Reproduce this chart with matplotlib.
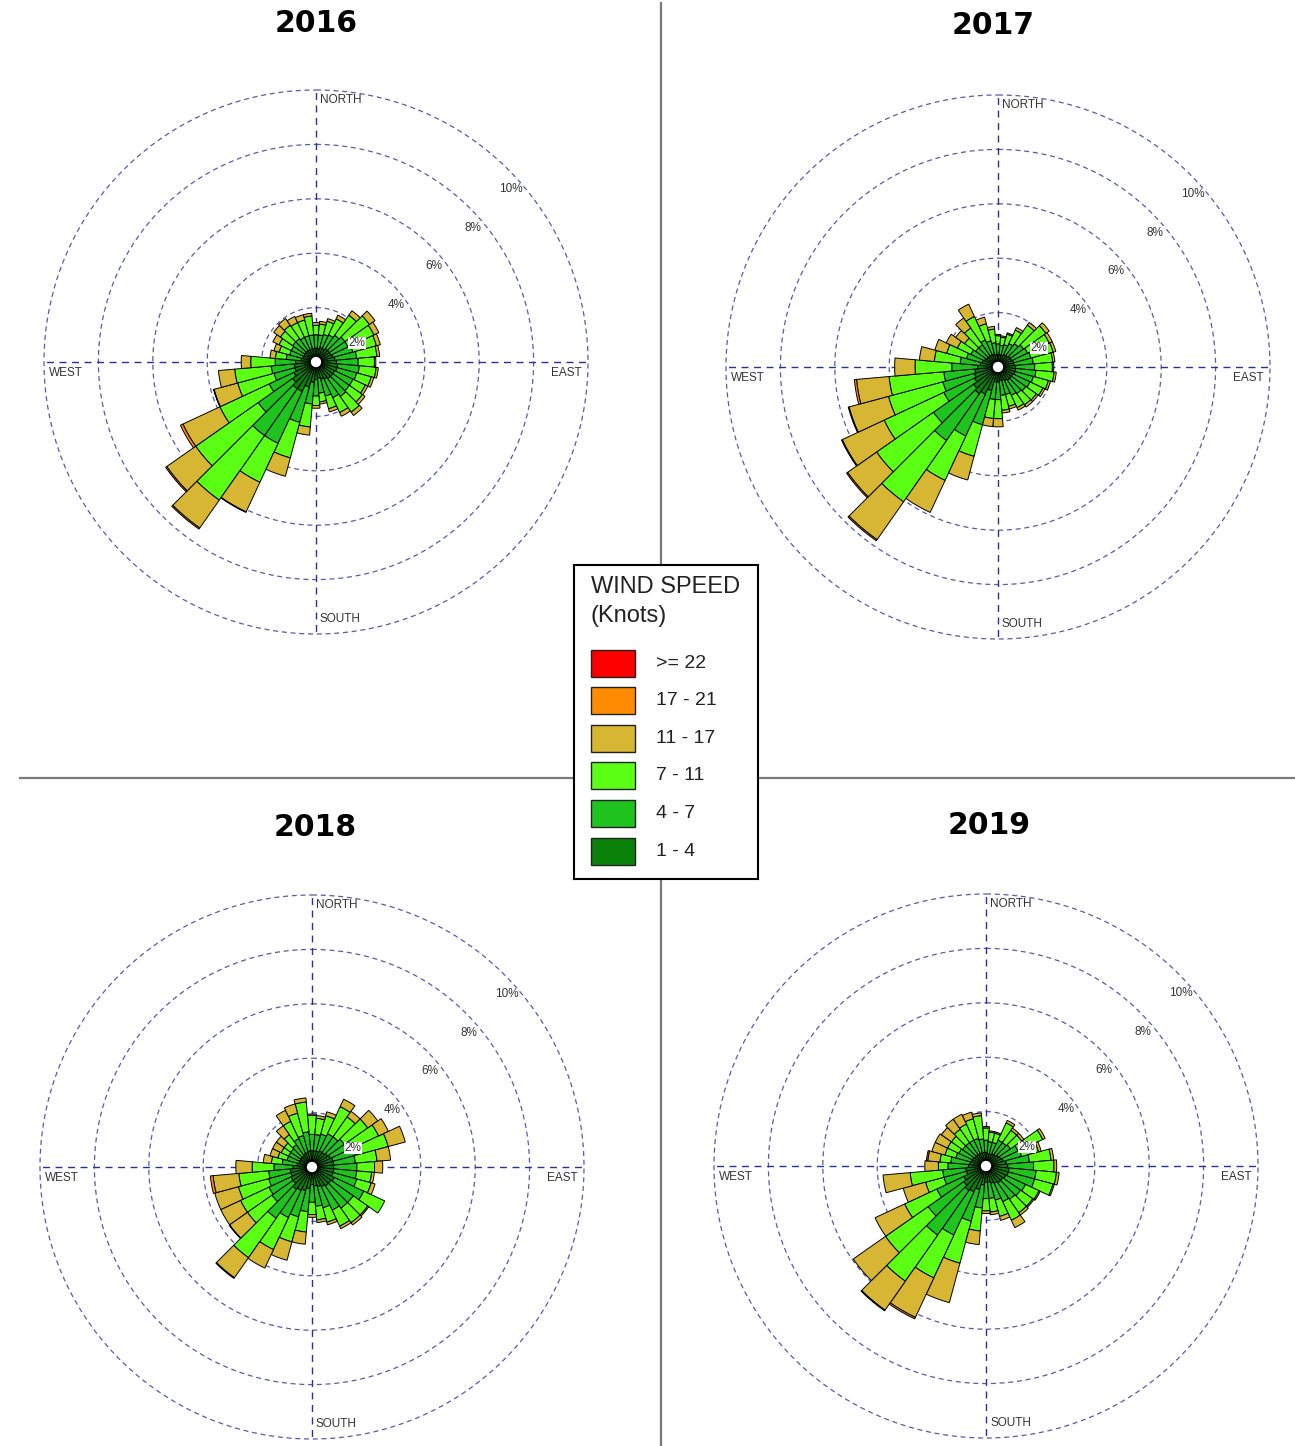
import numpy as np
import matplotlib
matplotlib.use('Agg')
import matplotlib.pyplot as plt
from matplotlib.patches import Circle, Rectangle
from matplotlib.lines import Line2D

plt.rcParams['font.family'] = ['Liberation Sans', 'DejaVu Sans']

# wind direction bins (degrees from north, clockwise)
directions = [0, 10, 20, 30, 40, 50, 60, 70, 80, 90, 100, 110,
              120, 130, 140, 150, 160, 170, 180, 190, 200, 210, 220, 230,
              240, 250, 260, 270, 280, 290, 300, 310, 320, 330, 340, 350]

speed_labels = ['1 - 4', '4 - 7', '7 - 11', '11 - 17', '17 - 21', '>= 22']
speed_colors = ['#0a820a', '#1ec31e', '#5aff14', '#d6b632', '#ff8c00', '#ff0000']
ring_values = [2, 4, 6, 8, 10]

# frequencies in % per speed class, one value per direction bin
s1_2016 = [0.5, 0.5, 0.55, 0.55, 0.6, 0.6, 0.6, 0.65, 0.7, 0.75, 0.8, 0.8,
           0.75, 0.75, 0.75, 0.7, 0.65, 0.6, 0.65, 0.75, 0.95, 1.2, 1.2, 1.05,
           0.9, 0.8, 0.8, 0.75, 0.55, 0.5, 0.5, 0.5, 0.5, 0.5, 0.5, 0.5]
s2_2016 = [0.5, 0.5, 0.5, 0.55, 0.6, 0.7, 0.7, 0.75, 0.8, 0.8, 0.8, 0.75,
           0.75, 0.75, 0.8, 0.75, 0.65, 0.55, 0.6, 0.8, 1.35, 2.1, 2.1, 1.55,
           1.0, 0.8, 0.85, 0.75, 0.55, 0.5, 0.5, 0.55, 0.55, 0.5, 0.5, 0.5]
s3_2016 = [0.35, 0.4, 0.5, 0.65, 0.9, 1.1, 1.05, 0.9, 0.75, 0.6, 0.62, 0.55,
           0.5, 0.58, 0.7, 0.6, 0.48, 0.32, 0.35, 0.85, 1.35, 1.58, 2.9, 2.8,
           2.0, 1.38, 1.35, 0.9, 0.4, 0.4, 0.5, 0.55, 0.6, 0.6, 0.6, 0.7]
s4_2016 = [0.1, 0.1, 0.1, 0.15, 0.2, 0.25, 0.2, 0.15, 0.1, 0.05, 0.08, 0.1,
           0.1, 0.12, 0.15, 0.15, 0.12, 0.08, 0.1, 0.3, 0.7, 1.2, 1.25, 1.3,
           1.5, 0.9, 0.6, 0.35, 0.2, 0.2, 0.25, 0.3, 0.3, 0.25, 0.2, 0.1]
s5_2016 = [0, 0, 0, 0, 0, 0, 0, 0, 0, 0, 0, 0,
           0, 0, 0, 0, 0, 0, 0, 0, 0, 0.02, 0.05, 0.05,
           0.1, 0.02, 0, 0, 0, 0, 0, 0, 0, 0, 0, 0]
s6_2016 = [0.0] * 36

s1_2017 = [0.45, 0.45, 0.45, 0.5, 0.5, 0.55, 0.55, 0.6, 0.6, 0.65, 0.65, 0.65,
           0.6, 0.6, 0.6, 0.55, 0.5, 0.5, 0.55, 0.55, 0.9, 1.1, 1.2, 1.1,
           0.95, 0.9, 0.85, 0.75, 0.65, 0.6, 0.55, 0.5, 0.5, 0.5, 0.5, 0.45]
s2_2017 = [0.4, 0.35, 0.4, 0.45, 0.55, 0.6, 0.65, 0.65, 0.7, 0.7, 0.75, 0.7,
           0.7, 0.65, 0.6, 0.6, 0.55, 0.55, 0.65, 0.65, 1.3, 1.7, 2.1, 1.8,
           1.25, 1.2, 1.15, 0.95, 0.75, 0.6, 0.55, 0.5, 0.5, 0.6, 0.5, 0.45]
s3_2017 = [0.3, 0.3, 0.4, 0.55, 0.83, 1.0, 0.88, 0.85, 0.72, 0.65, 0.67, 0.57,
           0.52, 0.47, 0.5, 0.5, 0.45, 0.55, 0.7, 0.7, 1.2, 1.8, 2.75, 2.55,
           2.42, 2.07, 2.02, 1.35, 0.95, 0.75, 0.55, 0.5, 0.75, 0.95, 0.65, 0.5]
s4_2017 = [0.05, 0.05, 0.05, 0.1, 0.12, 0.15, 0.12, 0.1, 0.08, 0.05, 0.08, 0.08,
           0.08, 0.08, 0.1, 0.1, 0.1, 0.1, 0.3, 0.3, 0.9, 1.3, 1.7, 1.3,
           1.7, 1.5, 1.2, 0.75, 0.55, 0.45, 0.45, 0.4, 0.45, 0.5, 0.25, 0.1]
s5_2017 = [0, 0, 0, 0, 0, 0, 0, 0, 0, 0, 0, 0,
           0, 0, 0, 0, 0, 0, 0, 0, 0, 0, 0.05, 0.05,
           0.03, 0.03, 0.08, 0, 0, 0, 0, 0, 0, 0, 0, 0]
s6_2017 = [0.0] * 36

s1_2018 = [0.6, 0.6, 0.6, 0.65, 0.65, 0.7, 0.75, 0.8, 0.8, 0.8, 0.8, 0.8,
           0.9, 0.85, 0.85, 0.8, 0.75, 0.7, 0.65, 0.8, 0.9, 0.95, 1.0, 0.85,
           0.85, 0.8, 0.8, 0.7, 0.55, 0.5, 0.5, 0.5, 0.5, 0.55, 0.55, 0.6]
s2_2018 = [0.6, 0.6, 0.65, 0.7, 0.7, 0.75, 0.8, 0.85, 0.8, 0.85, 0.85, 0.9,
           1.2, 1.0, 1.0, 0.95, 0.8, 0.75, 0.65, 0.85, 1.0, 1.1, 1.3, 0.95,
           0.9, 0.85, 0.8, 0.7, 0.55, 0.45, 0.45, 0.45, 0.5, 0.6, 0.65, 0.7]
s3_2018 = [0.7, 0.6, 0.7, 1.1, 0.9, 1.05, 1.15, 1.25, 0.8, 0.65, 0.55, 0.55,
           0.85, 0.65, 0.65, 0.65, 0.55, 0.5, 0.45, 0.75, 0.95, 1.3, 1.77, 1.1,
           1.15, 1.15, 1.1, 0.8, 0.4, 0.35, 0.3, 0.3, 0.45, 0.7, 0.85, 1.1]
s4_2018 = [0.05, 0.1, 0.15, 0.3, 0.25, 0.45, 0.4, 0.65, 0.5, 0.3, 0.1, 0.15,
           0.0, 0.05, 0.1, 0.1, 0.1, 0.1, 0.1, 0.45, 0.7, 0.75, 0.9, 0.8,
           0.8, 0.9, 0.95, 0.6, 0.3, 0.3, 0.35, 0.35, 0.4, 0.45, 0.35, 0.15]
s5_2018 = [0, 0, 0, 0, 0, 0, 0, 0, 0, 0, 0, 0,
           0, 0, 0, 0, 0, 0, 0, 0, 0, 0, 0.03, 0.02,
           0, 0, 0.1, 0, 0, 0, 0, 0, 0, 0, 0, 0]
s6_2018 = [0.0] * 36

s1_2019 = [0.5, 0.45, 0.45, 0.5, 0.5, 0.55, 0.6, 0.65, 0.75, 0.8, 0.85, 0.85,
           0.8, 0.75, 0.75, 0.7, 0.65, 0.6, 0.6, 0.7, 0.9, 1.05, 1.1, 1.0,
           0.9, 0.75, 0.75, 0.65, 0.6, 0.55, 0.55, 0.5, 0.5, 0.5, 0.5, 0.5]
s2_2019 = [0.45, 0.45, 0.45, 0.55, 0.55, 0.55, 0.7, 0.7, 0.85, 0.95, 1.0, 1.0,
           0.8, 0.8, 0.75, 0.75, 0.65, 0.6, 0.6, 0.85, 1.2, 1.75, 2.0, 1.6,
           1.1, 0.85, 0.85, 0.75, 0.7, 0.6, 0.55, 0.55, 0.55, 0.55, 0.55, 0.5]
s3_2019 = [0.45, 0.35, 0.35, 0.7, 0.55, 0.5, 1.0, 0.65, 0.8, 0.75, 0.75, 0.7,
           0.55, 0.55, 0.6, 0.75, 0.62, 0.5, 0.45, 0.85, 1.6, 1.74, 2.07, 1.91,
           1.3, 0.7, 1.2, 0.35, 0.4, 0.41, 0.46, 0.5, 0.6, 0.65, 0.75, 0.86]
s4_2019 = [0.05, 0.05, 0.05, 0.1, 0.1, 0.1, 0.1, 0.1, 0.1, 0.1, 0.1, 0.05,
           0.05, 0.05, 0.1, 0.3, 0.15, 0.1, 0.1, 0.5, 1.5, 1.6, 1.3, 1.45,
           1.2, 0.85, 1.0, 0.5, 0.45, 0.5, 0.5, 0.45, 0.45, 0.4, 0.25, 0.1]
s5_2019 = [0, 0, 0, 0, 0, 0, 0, 0, 0, 0, 0, 0,
           0, 0, 0, 0, 0, 0, 0, 0, 0, 0.06, 0.03, 0,
           0, 0, 0, 0, 0.05, 0, 0, 0, 0, 0, 0, 0]
s6_2019 = [0.0] * 36

W, H = 1295, 1446
R = 272  # pixel radius of the 10% circle

fig = plt.figure(figsize=(W / 100, H / 100), dpi=100)
fig.patch.set_facecolor('white')


def add_rose(cx, cy, title, tx, ty, classes):
    ax = fig.add_axes([(cx - R) / W, 1 - (cy + R) / H, 2 * R / W, 2 * R / H],
                      projection='polar')
    ax.set_theta_zero_location('N')
    ax.set_theta_direction(-1)
    ax.set_ylim(0, 10)
    ax.set_xticks([])
    ax.set_yticks([])
    ax.grid(False)
    ax.spines['polar'].set_visible(False)
    ax.patch.set_alpha(0)

    t = np.linspace(0, 2 * np.pi, 500)
    for r in ring_values:
        ax.plot(t, np.full_like(t, r), ls=(0, (4, 3)), color='#5a5aa8', lw=0.9,
                clip_on=False, zorder=1)
    for a in [0, np.pi / 2, np.pi, 1.5 * np.pi]:
        ax.plot([a, a], [0, 10], ls=(0, (5, 4)), color='#2e2e96', lw=1.0,
                clip_on=False, zorder=1)

    theta = np.deg2rad(directions)
    width = np.deg2rad(10)
    bottom = np.zeros(len(directions))
    for vals, col in zip(classes, speed_colors):
        vals = np.array(vals, dtype=float)
        m = vals > 0
        if m.any():
            ax.bar(theta[m], vals[m], width=width, bottom=bottom[m], color=col,
                   edgecolor='black', lw=0.7, zorder=3)
        bottom += vals

    ax.add_patch(Circle((0.5, 0.5), 6 / (2 * R), transform=ax.transAxes,
                        fc='white', ec='black', lw=1.2, zorder=5))

    for r in ring_values:
        ax.annotate(f'{r}%', xy=(np.pi / 4, r), xytext=(2, -14),
                    textcoords='offset points', ha='center', va='center',
                    fontsize=8.5, color='#333333', zorder=6,
                    bbox=dict(fc='white', ec='none', pad=0.3))

    tk = dict(transform=ax.transAxes, fontsize=8.5, color='#333333', va='center')
    ax.text(0.5 + 4 / 544, 0.5 + 262 / 544, 'NORTH', ha='left', **tk)
    ax.text(0.5 + 4 / 544, 0.5 - 257 / 544, 'SOUTH', ha='left', **tk)
    ax.text(0.5 - 267 / 544, 0.5 - 11 / 544, 'WEST', ha='left', **tk)
    ax.text(0.5 + 266 / 544, 0.5 - 11 / 544, 'EAST', ha='right', **tk)

    fig.text(tx / W, 1 - ty / H, title, ha='center', va='center',
             fontsize=21.5, fontweight='bold', family='DejaVu Sans')


add_rose(316, 362, '2016', 316, 23,
         [s1_2016, s2_2016, s3_2016, s4_2016, s5_2016, s6_2016])
add_rose(998, 367, '2017', 993, 26,
         [s1_2017, s2_2017, s3_2017, s4_2017, s5_2017, s6_2017])
add_rose(312, 1167, '2018', 315, 827,
         [s1_2018, s2_2018, s3_2018, s4_2018, s5_2018, s6_2018])
add_rose(986, 1166, '2019', 989, 826,
         [s1_2019, s2_2019, s3_2019, s4_2019, s5_2019, s6_2019])

# quadrant separators
fig.add_artist(Line2D([661 / W, 661 / W], [0, 1 - 3 / H], color='#7a7a7a', lw=1.6, zorder=0))
fig.add_artist(Line2D([20 / W, 1], [1 - 778 / H, 1 - 778 / H], color='#7a7a7a', lw=1.6, zorder=0))

# legend box
lax = fig.add_axes([574 / W, 1 - 879 / H, 184 / W, 314 / H])
lax.set_zorder(10)
lax.set_xlim(0, 1)
lax.set_ylim(0, 1)
lax.set_xticks([])
lax.set_yticks([])
lax.set_facecolor('white')
for s in lax.spines.values():
    s.set_linewidth(1.5)
    s.set_color('black')
lax.text(0.092, 0.930, 'WIND SPEED', fontsize=17, ha='left', va='center', color='#222222')
lax.text(0.092, 0.838, '(Knots)', fontsize=17, ha='left', va='center', color='#222222')
ys = [0.088, 0.209, 0.330, 0.448, 0.569, 0.686]
for yc, lab, col in zip(ys, speed_labels, speed_colors):
    lax.add_patch(Rectangle((0.092, yc - 0.043), 0.239, 0.086, fc=col,
                            ec='#222222', lw=1.0))
    lax.text(0.446, yc, lab, fontsize=14, ha='left', va='center', color='#222222')

fig.savefig('out.png', dpi=100, facecolor='white')
